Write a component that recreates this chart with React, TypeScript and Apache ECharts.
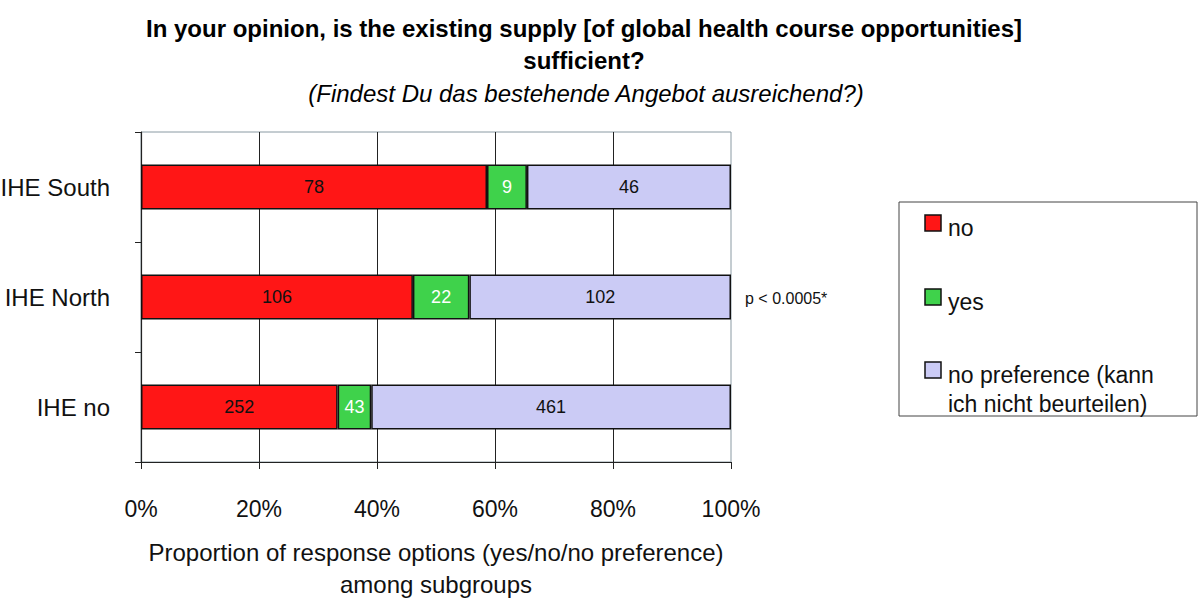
import React, { useEffect, useRef } from "react";
import * as echarts from "echarts";

const categories = ["IHE South", "IHE North", "IHE no"];
const noCounts = [78, 106, 252];
const yesCounts = [9, 22, 43];
const noPrefCounts = [46, 102, 461];
const seriesNames = ["no", "yes", "no preference (kann ich nicht beurteilen)"];
const xTicks = [0, 20, 40, 60, 80, 100];

const FONT = "'Liberation Sans', Arial, Helvetica, sans-serif";
const RED = "#ff1616";
const GREEN = "#3fd24b";
const LAV = "#cbcbf5";

export default function App() {
  const ref = useRef<HTMLDivElement>(null);
  useEffect(() => {
    document.body.style.margin = "0";
    const chart = echarts.init(ref.current!, null, { renderer: "svg" });
    const totals = categories.map((_, i) => noCounts[i] + yesCounts[i] + noPrefCounts[i]);
    const countsList = [noCounts, yesCounts, noPrefCounts];
    const colors = [RED, GREEN, LAV];
    const labelColors = ["#111", "#fff", "#111"];
    const series = countsList.map((counts, s) => ({
      name: seriesNames[s],
      type: "bar",
      stack: "total",
      barWidth: 45,
      itemStyle: { color: colors[s], borderColor: "#111", borderWidth: 1.5 },
      label: {
        show: true,
        position: "inside",
        color: labelColors[s],
        fontFamily: FONT,
        fontSize: 18,
        formatter: (p: any) => String(counts[p.dataIndex]),
      },
      data: counts.map((c, i) => (c / totals[i]) * 100),
    }));
    const legendY = [223, 297, 370];
    const legendGraphics: any[] = [
      { type: "rect", shape: { x: 899, y: 202, width: 298, height: 214 }, style: { fill: "#fff", stroke: "#444", lineWidth: 1 } },
    ];
    colors.forEach((c, i) => {
      legendGraphics.push({
        type: "rect",
        shape: { x: 925, y: legendY[i] - 8, width: 16, height: 16 },
        style: { fill: c, stroke: "#111", lineWidth: 1.5 },
      });
    });
    const legendLines = [["no"], ["yes"], ["no preference (kann", "ich nicht beurteilen)"]];
    legendLines.forEach((lines, i) => {
      lines.forEach((t, j) => {
        legendGraphics.push({
          type: "text",
          x: 948,
          y: legendY[i] + 5 + j * 29,
          style: { text: t, fontFamily: FONT, fontSize: 23, fill: "#111", verticalAlign: "middle" },
        });
      });
    });

    chart.setOption({
      animation: false,
      backgroundColor: "#fff",
      grid: {
        left: 141,
        top: 132,
        width: 590,
        height: 330,
        show: true,
        borderColor: "#8a9aa3",
        borderWidth: 1,
        backgroundColor: "transparent",
        containLabel: false,
        outerBoundsMode: "none",
      },
      xAxis: {
        type: "value",
        min: 0,
        max: 100,
        interval: 20,
        axisLine: { show: true, lineStyle: { color: "#222", width: 1.2 } },
        axisTick: { show: true, length: 7, lineStyle: { color: "#222" } },
        axisLabel: {
          formatter: (v: number) => (xTicks.includes(v) ? v + "%" : ""),
          fontFamily: FONT,
          fontSize: 23,
          color: "#111",
          margin: 35,
        },
        splitLine: { show: true, showMaxLine: false, lineStyle: { color: "#222", width: 1 } },
        name: "Proportion of response options (yes/no/no preference)\namong subgroups",
        nameLocation: "middle",
        nameGap: 74,
        nameTextStyle: { fontFamily: FONT, fontSize: 24, color: "#111", lineHeight: 32 },
      },
      yAxis: {
        type: "category",
        inverse: true,
        data: categories,
        axisLine: { show: true, lineStyle: { color: "#222", width: 1.2 } },
        axisTick: { show: true, length: 6, alignWithLabel: false, lineStyle: { color: "#222" } },
        axisLabel: { fontFamily: FONT, fontSize: 24, color: "#111", margin: 31, padding: [6, 0, 0, 0] },
        splitLine: { show: false },
      },
      series,
      graphic: [
        {
          type: "text",
          x: 584,
          y: 28,
          style: {
            text: "In your opinion, is the existing supply [of global health course opportunities]",
            fontFamily: FONT,
            fontSize: 24,
            fontWeight: "bold",
            fill: "#000",
            align: "center",
            verticalAlign: "middle",
          },
        },
        {
          type: "text",
          x: 584,
          y: 60,
          style: {
            text: "sufficient?",
            fontFamily: FONT,
            fontSize: 24,
            fontWeight: "bold",
            fill: "#000",
            align: "center",
            verticalAlign: "middle",
          },
        },
        {
          type: "text",
          x: 586,
          y: 93,
          style: {
            text: "(Findest Du das bestehende Angebot ausreichend?)",
            fontFamily: FONT,
            fontSize: 24,
            fontStyle: "italic",
            fill: "#000",
            align: "center",
            verticalAlign: "middle",
          },
        },
        {
          type: "text",
          x: 745,
          y: 298,
          style: { text: "p < 0.0005*", fontFamily: FONT, fontSize: 16, fill: "#111", verticalAlign: "middle" },
        },
        ...legendGraphics,
      ],
    });
    return () => chart.dispose();
  }, []);
  return <div ref={ref} style={{ width: 1200, height: 603, position: "absolute", left: 0, top: 0 }} />;
}
